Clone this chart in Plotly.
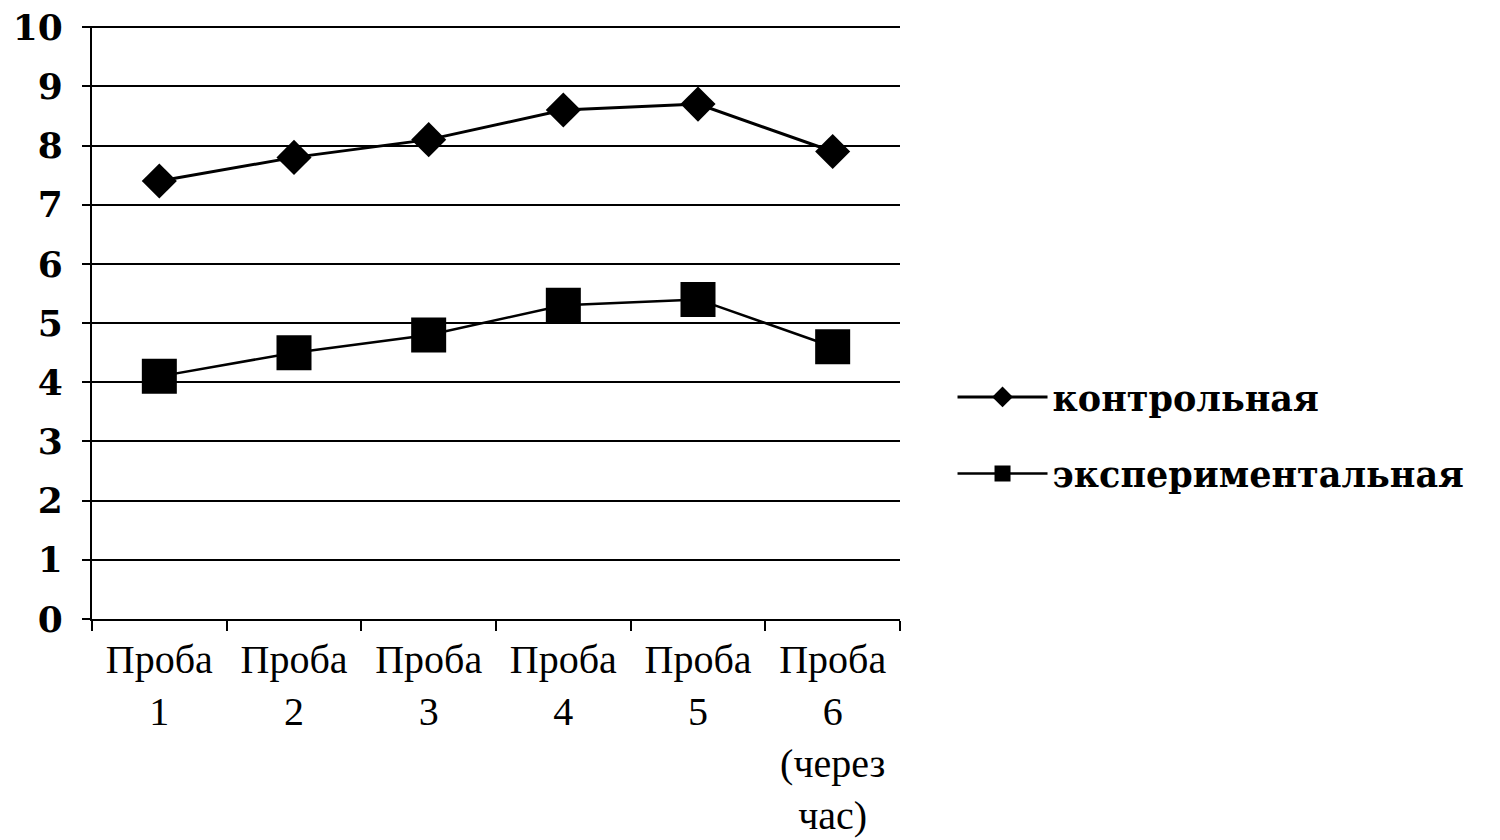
import plotly.graph_objects as go

categories = ["Проба 1", "Проба 2", "Проба 3", "Проба 4", "Проба 5", "Проба 6"]
tick_labels = ["Проба<br>1", "Проба<br>2", "Проба<br>3", "Проба<br>4", "Проба<br>5",
               "Проба<br>6<br>(через<br>час)"]
control = [7.4, 7.8, 8.1, 8.6, 8.7, 7.9]
experimental = [4.1, 4.5, 4.8, 5.3, 5.4, 4.6]
y_ticks = list(range(0, 11))

SERIF = "DejaVu Serif"
NARROW = "Liberation Serif"

fig = go.Figure()
fig.add_trace(go.Scatter(
    x=categories, y=control, name="контрольная",
    mode="lines+markers", legendgroup="a",
    line=dict(color="black", width=3),
    marker=dict(symbol="diamond", size=27, color="black"),
))
fig.add_trace(go.Scatter(
    x=categories, y=experimental, name="экспериментальная",
    mode="lines+markers", legendgroup="b",
    line=dict(color="black", width=2.5),
    marker=dict(symbol="square", size=35, color="black"),
))

fig.update_layout(
    width=1500, height=840,
    margin=dict(l=84, r=608, t=18, b=229),
    paper_bgcolor="white", plot_bgcolor="white",
    font=dict(family=SERIF, color="black"),
    showlegend=True,
    legend=dict(
        x=1.065, y=0.31, xanchor="left", yanchor="middle",
        font=dict(family=SERIF, size=35, color="black", weight="bold"),
        traceorder="grouped", tracegroupgap=28,
        itemwidth=90, itemsizing="trace",
        bgcolor="rgba(0,0,0,0)",
    ),
)

fig.update_xaxes(
    type="category",
    tickvals=categories, ticktext=tick_labels,
    tickson="boundaries", ticks="outside", ticklen=10, tickwidth=2, tickcolor="black",
    showline=True, linecolor="black", linewidth=2,
    showgrid=False, zeroline=False, automargin=False,
    tickfont=dict(family=NARROW, size=40, color="black"),
    ticklabelstandoff=4,
    range=[-0.5, 5.5],
)
fig.update_yaxes(
    range=[0, 10.02], tickvals=y_ticks,
    ticks="outside", ticklen=8, tickwidth=2, tickcolor="black",
    showline=True, linecolor="black", linewidth=2,
    showgrid=True, gridcolor="black", gridwidth=2,
    zeroline=False, automargin=False,
    tickfont=dict(family=SERIF, size=36, color="black", weight="bold"),
    ticklabelstandoff=12, ticklabeloverflow="allow",
)

fig.write_html("out.html")
